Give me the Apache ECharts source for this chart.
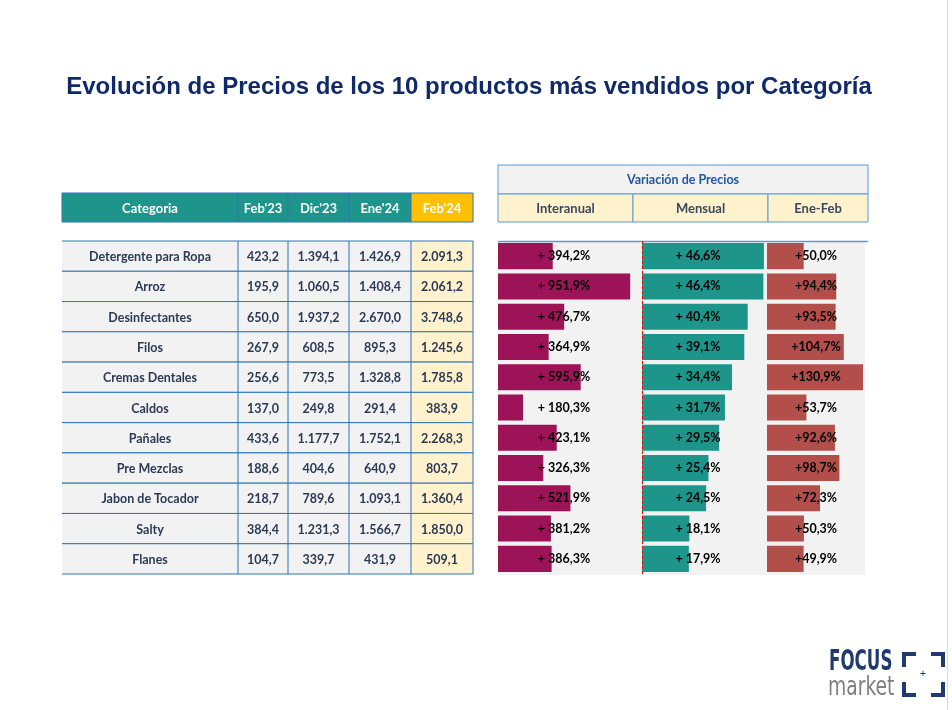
<!DOCTYPE html>
<html><head><meta charset="utf-8">
<script src="https://cdn.jsdelivr.net/npm/echarts@6/dist/echarts.min.js"></script>
<style>html,body{margin:0;padding:0;background:#fff}#c{width:952px;height:710px}</style>
</head><body><div id="c"></div>
<script>
const titleText = 'Evolución de Precios de los 10 productos más vendidos por Categoría';
const categories = ['Detergente para Ropa','Arroz','Desinfectantes','Filos','Cremas Dentales','Caldos','Pañales','Pre Mezclas','Jabon de Tocador','Salty','Flanes'];
const feb23 = [423.2,195.9,650.0,267.9,256.6,137.0,433.6,188.6,218.7,384.4,104.7];
const dic23 = [1394.1,1060.5,1937.2,608.5,773.5,249.8,1177.7,404.6,789.6,1231.3,339.7];
const ene24 = [1426.9,1408.4,2670.0,895.3,1328.8,291.4,1752.1,640.9,1093.1,1566.7,431.9];
const feb24 = [2091.3,2061.2,3748.6,1245.6,1785.8,383.9,2268.3,803.7,1360.4,1850.0,509.1];
const interanual = [394.2,951.9,476.7,364.9,595.9,180.3,423.1,326.3,521.9,381.2,386.3];
const mensual = [46.6,46.4,40.4,39.1,34.4,31.7,29.5,25.4,24.5,18.1,17.9];
const eneFeb = [50.0,94.4,93.5,104.7,130.9,53.7,92.6,98.7,72.3,50.3,49.9];
const tableHeaders = ['Categoria',"Feb'23","Dic'23","Ene'24","Feb'24"];
const varTitle = 'Variación de Precios';
const varHeaders = ['Interanual','Mensual','Ene-Feb'];

function fmt(v){
  const s = v.toFixed(1).split('.');
  return s[0].replace(/\B(?=(\d{3})+(?!\d))/g,'.') + ',' + s[1];
}
const BLUE = '#2E75B6';
const FONT = 'Lato, "Noto Sans", sans-serif';
const TXT = '#2C3A55';

const colLeft = [62,238,288,349,411];
const colW = [176,50,61,62,62];
const TOP = 241, HEIGHT = 333;

const grids = [], xAxes = [], yAxes = [], series = [];
function addGrid(left,width){
  const i = grids.length;
  grids.push({left:left, width:width, top:TOP, height:HEIGHT, containLabel:false});
  return i;
}
const colData = [categories, feb23, dic23, ene24, feb24];
colData.forEach((arr,ci)=>{
  const g = addGrid(colLeft[ci], colW[ci]);
  xAxes.push({type:'category', gridIndex:g, data:['c'], show:false});
  yAxes.push({type:'category', gridIndex:g, data:categories, inverse:true, show:false});
  const isCat = ci===0, isLast = ci===4;
  series.push({
    type:'custom', xAxisIndex:g, yAxisIndex:g, clip:false,
    data: arr.map((v,i)=>[0,i,v]),
    renderItem: function(params, api){
      const c = api.coord([0, api.value(1)]);
      const sz = api.size([1,1]);
      const x0 = c[0]-sz[0]/2, y0 = c[1]-sz[1]/2, w = sz[0], h = sz[1];
      const v = arr[api.value(1)];
      const children = [
        {type:'rect', shape:{x:x0,y:y0,width:w,height:h}, style:{fill: isLast?'#FFF2CC':'#F2F2F2'}},
        {type:'line', shape:{x1:x0,y1:y0+h,x2:x0+w,y2:y0+h}, style:{stroke:BLUE,lineWidth:1}},
        {type:'line', shape:{x1:x0,y1:y0,x2:x0+w,y2:y0}, style:{stroke:BLUE,lineWidth:1}},
        {type:'text', style:{x:x0+w/2, y:y0+h/2+1, text: isCat? v : fmt(v), fill:TXT,
          font:'bold 12.5px '+FONT, align:'center', verticalAlign:'middle'}}
      ];
      if(!isCat){
        children.push({type:'line', shape:{x1:x0,y1:y0,x2:x0,y2:y0+h}, style:{stroke:BLUE,lineWidth:1}});
      }
      if(isLast){
        children.push({type:'line', shape:{x1:x0+w,y1:y0,x2:x0+w,y2:y0+h}, style:{stroke:BLUE,lineWidth:1}});
      }
      return {type:'group', children:children};
    }
  });
});

const barDefs = [
  {data:interanual, left:498, width:143, max:1030, color:'#9C1457', lx:66, sep:'+ '},
  {data:mensual, left:642, width:124, max:47.4, color:'#1E958B', lx:56, sep:'+ '},
  {data:eneFeb, left:767, width:98, max:133.6, color:'#B24F4B', lx:49, sep:'+'}
];
barDefs.forEach((d,bi)=>{
  const g = addGrid(d.left, d.width);
  xAxes.push({type:'value', gridIndex:g, min:0, max:d.max, show:false});
  yAxes.push({type:'category', gridIndex:g, data:categories, inverse:true, show:false});
  const s = {
    type:'bar', xAxisIndex:g, yAxisIndex:g, data:d.data, barCategoryGap:'14%',
    itemStyle:{color:d.color},
    label:{show:true, position:[d.lx,'50%'], align:'center', verticalAlign:'middle',
      color:'#000', fontFamily:FONT, fontWeight:'bold', fontSize:12.5,
      formatter:p=>d.sep+fmt(p.value)+'%'},
    silent:true
  };
  if(bi===1){
    s.markLine = {silent:true, symbol:['none','none'], label:{show:false},
      lineStyle:{color:'#FF0000', type:[3,2], width:1},
      data:[{xAxis:0}]};
  }
  series.push(s);
});

const gfx = [];
gfx.push({type:'text', x:469, y:87, style:{text:titleText, fill:'#10296B',
  font:'bold 24px "Liberation Sans", Arial, sans-serif', align:'center', verticalAlign:'middle'}});
tableHeaders.forEach((t,i)=>{
  gfx.push({type:'rect', shape:{x:colLeft[i], y:193, width:colW[i], height:29},
    style:{fill: i===4?'#FFC000':'#1E958B', stroke:BLUE, lineWidth:1}});
  gfx.push({type:'text', x:colLeft[i]+colW[i]/2, y:209, style:{text:t, fill:'#fff',
    font:'bold 13px '+FONT, align:'center', verticalAlign:'middle'}});
});
gfx.push({type:'rect', shape:{x:498,y:165,width:370,height:29}, style:{fill:'#F2F2F2', stroke:'#5B9BD5', lineWidth:1}});
gfx.push({type:'text', x:683, y:180, style:{text:varTitle, fill:'#1F56A4', font:'bold 12.5px '+FONT, align:'center', verticalAlign:'middle'}});
const vhX = [498,633,768], vhW = [135,135,100];
varHeaders.forEach((t,i)=>{
  gfx.push({type:'rect', shape:{x:vhX[i],y:194,width:vhW[i],height:28}, style:{fill:'#FFF2CC', stroke:'#5B9BD5', lineWidth:1}});
  gfx.push({type:'text', x:vhX[i]+vhW[i]/2, y:209, style:{text:t, fill:'#3A4763', font:'bold 13px '+FONT, align:'center', verticalAlign:'middle'}});
});
gfx.push({type:'rect', z:-10, shape:{x:498,y:241,width:367,height:334}, style:{fill:'#F2F2F2'}});
gfx.push({type:'line', shape:{x1:498,y1:241.5,x2:868,y2:241.5}, style:{stroke:'#5B9BD5', lineWidth:1.5}});
gfx.push({type:'line', shape:{x1:947.5,y1:0,x2:947.5,y2:710}, style:{stroke:'#E6D6D6', lineWidth:1}});
gfx.push({type:'text', x:829, y:648, scaleX:0.64, style:{text:'FOCUS', fill:'#1F3A6E', font:'bold 29px "DejaVu Sans Condensed", "Liberation Sans", sans-serif'}});
gfx.push({type:'text', x:828, y:675, scaleX:0.8, style:{text:'market', fill:'#7F7F7F', font:'26px "DejaVu Sans Condensed", "Liberation Sans", sans-serif'}});
const NAVY = '#1F3A6E';
[[902,652,14,4],[902,652,4,15],[931,652,14,4],[941,652,4,15],
 [902,682,4,15],[902,693,14,4],[941,682,4,15],[931,693,14,4]].forEach(r=>{
  gfx.push({type:'rect', shape:{x:r[0],y:r[1],width:r[2],height:r[3]}, style:{fill:NAVY}});
});
gfx.push({type:'text', x:923, y:674, style:{text:'+', fill:NAVY, font:'11px "Liberation Sans", sans-serif', align:'center', verticalAlign:'middle'}});

const chart = echarts.init(document.getElementById('c'), null, {renderer:'canvas'});
chart.setOption({
  backgroundColor:'#ffffff',
  animation:false,
  grid:grids, xAxis:xAxes, yAxis:yAxes, series:series,
  graphic:{elements:gfx}
});
</script></body></html>
